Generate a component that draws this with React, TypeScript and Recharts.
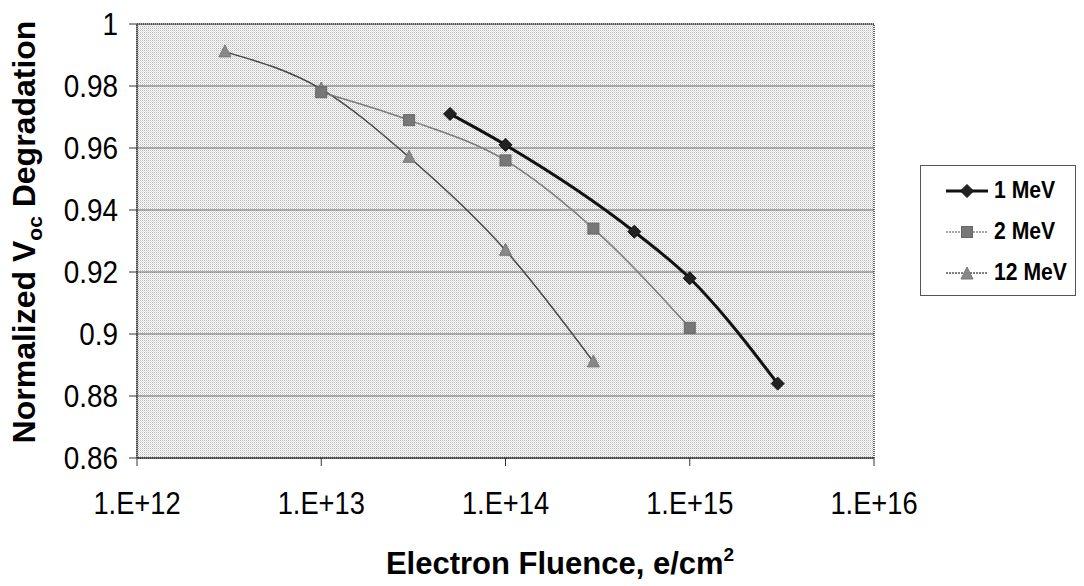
import React from "react";
import { LineChart, Line, XAxis, YAxis, CartesianGrid, ReferenceArea, Label } from "recharts";

const xTicks = [1e12, 1e13, 1e14, 1e15, 1e16];
const yTicks = [0.86, 0.88, 0.9, 0.92, 0.94, 0.96, 0.98, 1];

const fluence1MeV = [5e13, 1e14, 5e14, 1e15, 3e15];
const voc1MeV = [0.971, 0.961, 0.933, 0.918, 0.884];

const fluence2MeV = [1e13, 3e13, 1e14, 3e14, 1e15];
const voc2MeV = [0.978, 0.969, 0.956, 0.934, 0.902];

const fluence12MeV = [3e12, 1e13, 3e13, 1e14, 3e14];
const voc12MeV = [0.991, 0.979, 0.957, 0.927, 0.891];

const seriesNames = ["1 MeV", "2 MeV", "12 MeV"];

const toRows = (xs: number[], ys: number[]) => xs.map((x, i) => ({ x, y: ys[i] }));

const data1 = toRows(fluence1MeV, voc1MeV);
const data2 = toRows(fluence2MeV, voc2MeV);
const data12 = toRows(fluence12MeV, voc12MeV);

const FONT = "'Liberation Sans', Arial, Helvetica, sans-serif";

const Diamond = (props: any) => {
  const { cx, cy, fill } = props;
  if (cx == null || cy == null) return null;
  const r = 6.5;
  return <path d={`M${cx},${cy - r}L${cx + r},${cy}L${cx},${cy + r}L${cx - r},${cy}Z`} fill={fill || "#222"} stroke="#111" strokeWidth={1} />;
};
const Square = (props: any) => {
  const { cx, cy, fill } = props;
  if (cx == null || cy == null) return null;
  const s = 5.5;
  return <rect x={cx - s} y={cy - s} width={2 * s} height={2 * s} fill={fill || "#777"} stroke="#666" strokeWidth={1} />;
};
const Triangle = (props: any) => {
  const { cx, cy, fill } = props;
  if (cx == null || cy == null) return null;
  const s = 6;
  return <path d={`M${cx},${cy - s - 1}L${cx + s},${cy + s - 1}L${cx - s},${cy + s - 1}Z`} fill={fill || "#888"} stroke="#777" strokeWidth={1} />;
};

const LegendBox = () => {
  const items = [
    { name: seriesNames[0], color: "#111", w: 3, dash: "", shape: "diamond" },
    { name: seriesNames[1], color: "#888", w: 1.5, dash: "2 1", shape: "square" },
    { name: seriesNames[2], color: "#555", w: 1.5, dash: "2 1", shape: "triangle" },
  ];
  return (
    <div
      style={{
        position: "absolute",
        left: 920,
        top: 165,
        border: "1px solid #555",
        width: 156,
        height: 131,
        background: "#fff",
        boxSizing: "border-box",
        paddingTop: 4,
        fontFamily: FONT,
      }}
    >
      {items.map((it) => (
        <div key={it.name} style={{ display: "flex", alignItems: "center", height: 41 }}>
          <svg width={50} height={20} style={{ marginLeft: 23 }}>
            <line x1={2} y1={10} x2={44} y2={10} stroke={it.color} strokeWidth={it.w} strokeDasharray={it.dash} />
            {it.shape === "diamond" && <Diamond cx={23} cy={10} fill="#222" />}
            {it.shape === "square" && <Square cx={23} cy={10} fill="#777" />}
            {it.shape === "triangle" && <Triangle cx={23} cy={11} fill="#888" />}
          </svg>
          <span style={{ fontWeight: "bold", fontSize: 23, color: "#000", display: "inline-block", transform: "scaleX(0.92)", transformOrigin: "left center" }}>{it.name}</span>
        </div>
      ))}
    </div>
  );
};

const fmtX = (v: number) => "1.E+" + Math.round(Math.log10(v));
const fmtY = (v: number) => String(Number(v.toFixed(2)));

const XTick = (props: any) => {
  const { x, y, payload } = props;
  return (
    <text transform={`translate(${x},${y + 48}) scale(0.88,1)`} textAnchor="middle" fontFamily={FONT} fontSize={31} fill="#000">
      {fmtX(payload.value)}
    </text>
  );
};
const YTick = (props: any) => {
  const { x, y, payload } = props;
  return (
    <text transform={`translate(${x},${y + 11}) scale(0.9,1)`} textAnchor="end" fontFamily={FONT} fontSize={31} fill="#000">
      {fmtY(payload.value)}
    </text>
  );
};

export default function App() {
  return (
    <div style={{ position: "absolute", left: 0, top: 0, width: 1084, height: 586, background: "#fff" }}>
      <LineChart width={1084} height={586} margin={{ top: 24, right: 210, left: 0, bottom: 0 }}>
        <defs>
          <pattern id="dots" width="2" height="2" patternUnits="userSpaceOnUse">
            <rect width="2" height="2" fill="#ffffff" />
            <rect x="0" y="0" width="1" height="1" fill="#b4b4b4" />
            <rect x="1" y="1" width="1" height="1" fill="#dedede" />
          </pattern>
        </defs>
        <CartesianGrid vertical={false} fill="url(#dots)" stroke="#6a6a6a" strokeWidth={1} />
        <XAxis
          dataKey="x"
          type="number"
          scale="log"
          domain={[1e12, 1e16]}
          ticks={xTicks}
          allowDataOverflow
          tickSize={8}
          tickMargin={0}
          height={128}
          axisLine={{ stroke: "#333" }}
          tickLine={{ stroke: "#333" }}
          tick={<XTick />}
        >
          <Label
            content={() => (
              <text x={560} y={574} textAnchor="middle" fontFamily={FONT} fontWeight="bold" fontSize={31} fill="#000">
                Electron Fluence, e/cm
                <tspan fontSize={19} dy={-13}>2</tspan>
              </text>
            )}
          />
        </XAxis>
        <YAxis
          dataKey="y"
          type="number"
          domain={[0.86, 1]}
          ticks={yTicks}
          allowDataOverflow
          width={137}
          tickSize={8}
          tickMargin={11}
          axisLine={{ stroke: "#333" }}
          tickLine={{ stroke: "#333" }}
          tick={<YTick />}
        >
          <Label
            content={() => (
              <text
                x={35}
                y={232}
                transform="rotate(-90 35 232)"
                textAnchor="middle"
                fontFamily={FONT}
                fontWeight="bold"
                fontSize={32}
                fill="#000"
              >
                Normalized V
                <tspan fontSize={21} dy={7}>oc</tspan>
                <tspan dy={-7}> Degradation</tspan>
              </text>
            )}
          />
        </YAxis>
        <ReferenceArea x1={1e12} x2={1e16} y1={0.86} y2={1} fill="none" stroke="#333" strokeWidth={1.5} strokeDasharray="1 1" ifOverflow="visible" />
        <Line
          data={data12}
          dataKey="y"
          name={seriesNames[2]}
          type="monotone"
          stroke="#444"
          strokeWidth={1.5}
          dot={<Triangle fill="#888" />}
          isAnimationActive={false}
        />
        <Line
          data={data2}
          dataKey="y"
          name={seriesNames[1]}
          type="monotone"
          stroke="#7a7a7a"
          strokeWidth={1.5}
          dot={<Square fill="#777" />}
          isAnimationActive={false}
        />
        <Line
          data={data1}
          dataKey="y"
          name={seriesNames[0]}
          type="monotone"
          stroke="#111"
          strokeWidth={3}
          dot={<Diamond fill="#222" />}
          isAnimationActive={false}
        />
      </LineChart>
      <LegendBox />
    </div>
  );
}
